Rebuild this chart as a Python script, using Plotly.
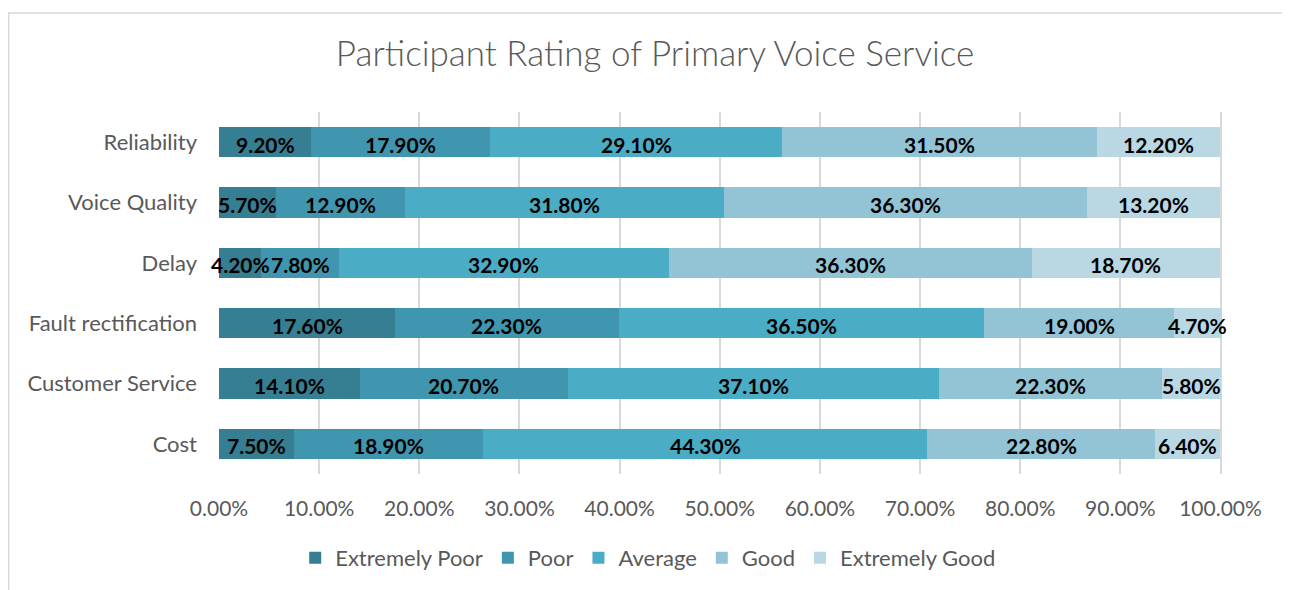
import plotly.graph_objects as go

categories = ["Reliability", "Voice Quality", "Delay", "Fault rectification", "Customer Service", "Cost"]
series_names = ["Extremely Poor", "Poor", "Average", "Good", "Extremely Good"]
extremely_poor = [9.2, 5.7, 4.2, 17.6, 14.1, 7.5]
poor = [17.9, 12.9, 7.8, 22.3, 20.7, 18.9]
average = [29.1, 31.8, 32.9, 36.5, 37.1, 44.3]
good = [31.5, 36.3, 36.3, 19.0, 22.3, 22.8]
extremely_good = [12.2, 13.2, 18.7, 4.7, 5.8, 6.4]
x_ticks = [0, 0.1, 0.2, 0.3, 0.4, 0.5, 0.6, 0.7, 0.8, 0.9, 1.0]

colors = ["#367E91", "#4096AF", "#4BACC6", "#92C4D5", "#B9D8E4"]
series = [extremely_poor, poor, average, good, extremely_good]

FONT = "Lato"
W, H = 1282, 582
L, T = 211, 104
XMAX = 1.0015
PW, PH = 1001 * XMAX, 362

fig = go.Figure()
for name, vals, col in zip(series_names, series, colors):
    fig.add_trace(go.Bar(
        y=categories, x=[v / 100 for v in vals], name=name, orientation="h",
        marker=dict(color=col, line=dict(width=0)),
        hovertemplate="%{y}: %{x:.2%}<extra>" + name + "</extra>",
    ))

# data labels drawn above all bars (centre of each stacked segment)
run = [0.0] * len(categories)
for name, vals in zip(series_names, series):
    for cat, r, v in zip(categories, run, vals):
        fig.add_annotation(
            x=(r + v / 2) / 100, y=cat, xref="x", yref="y",
            text=f"{v:.2f}%", showarrow=False, yshift=-2,
            xanchor="center", yanchor="middle",
            font=dict(family=FONT, size=21, color="black", weight="bold"),
        )
    run = [r + v for r, v in zip(run, vals)]

fig.update_layout(
    barmode="stack", bargap=0.5,
    width=W, height=H,
    margin=dict(l=L, r=W - L - PW, t=T, b=H - T - PH, autoexpand=False),
    paper_bgcolor="white", plot_bgcolor="white",
    font=dict(family=FONT, color="#595959"),
    title=dict(text="Participant Rating of Primary Voice Service", x=647 / W, xanchor="center",
               y=1 - 46 / H, yanchor="middle",
               font=dict(size=35, color="#595959", family=FONT, weight=300)),
    xaxis=dict(range=[0, XMAX], tickvals=x_ticks, tickformat=".2%", showgrid=True,
               gridcolor="#D9D9D9", gridwidth=1.5, zeroline=False, showline=False,
               tickfont=dict(size=21, color="#595959"), ticks="", ticklabelstandoff=20),
    yaxis=dict(categoryorder="array", categoryarray=categories, autorange="reversed",
               showgrid=False, showline=False, ticks="", tickfont=dict(size=22, color="#595959"),
               ticklabelstandoff=21),
    legend=dict(orientation="h", x=(640 - L) / PW, xanchor="center", y=(T + PH - 550) / PH,
                yanchor="middle", font=dict(size=22, color="#595959"), traceorder="normal",
                itemwidth=30, tracegroupgap=0),
    showlegend=True,
)
fig.add_shape(type="rect", xref="paper", yref="paper",
              x0=(0.75 - L) / PW, x1=(1275 - L) / PW,
              y0=(T + PH - 620) / PH, y1=(T + PH - 5) / PH,
              line=dict(color="#D9D9D9", width=1.5), layer="below")
fig.write_html("out.html")
